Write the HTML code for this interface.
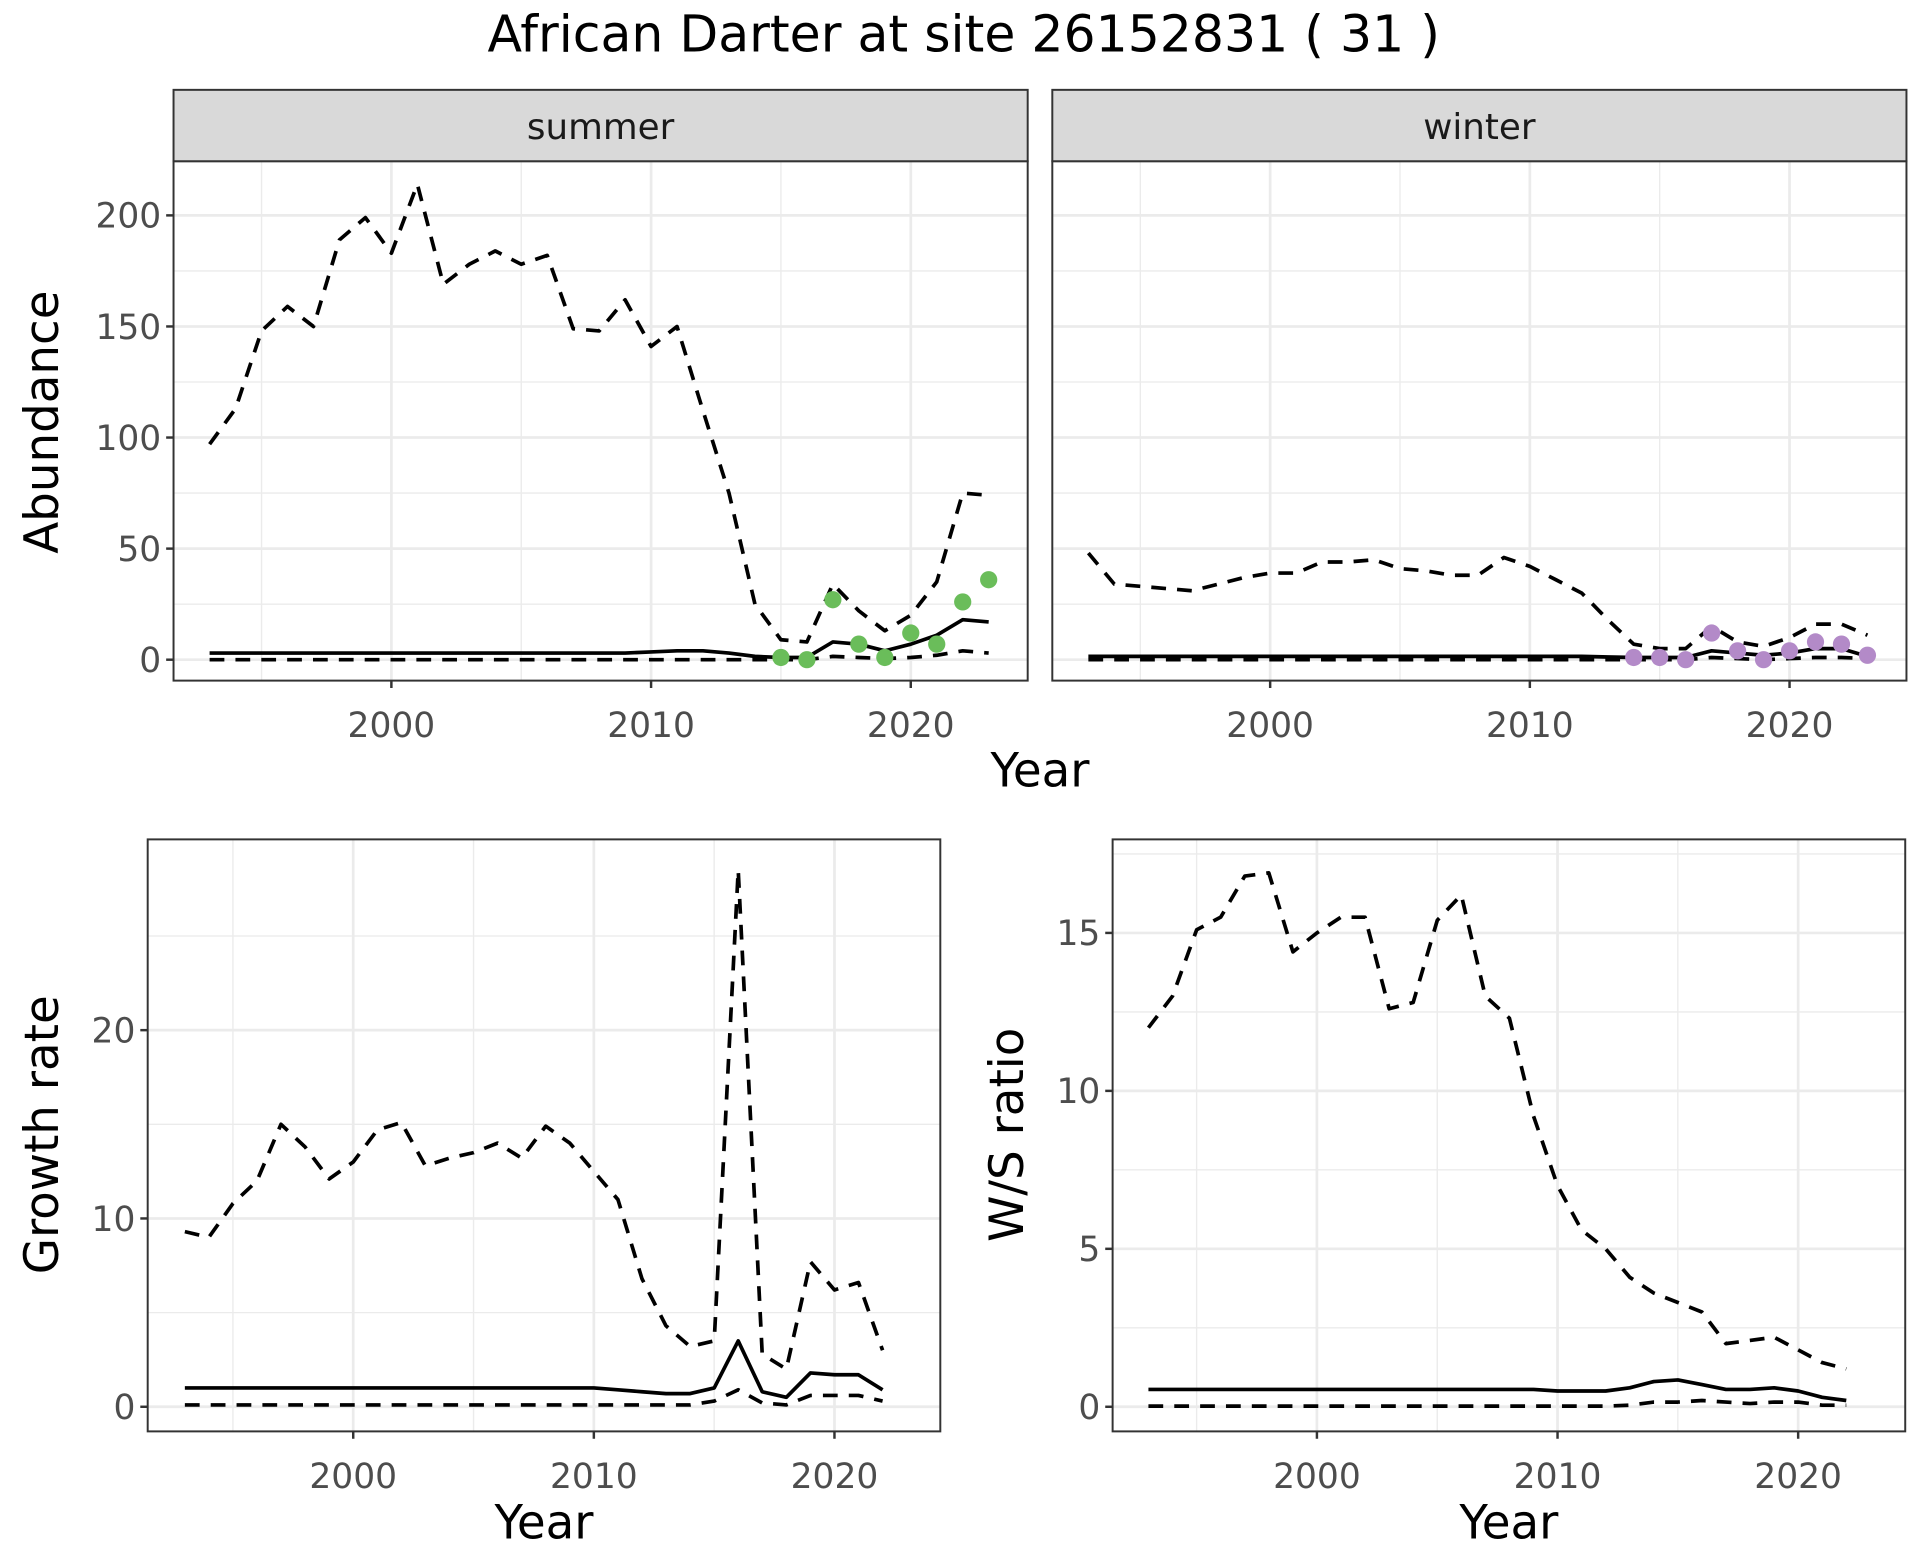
<!DOCTYPE html>
<html><head><meta charset="utf-8"><style>
html,body{margin:0;padding:0;background:#fff}
svg{display:block}
text{font-family:"DejaVu Sans","Liberation Sans",sans-serif}
</style></head><body>
<svg width="1920" height="1560" viewBox="0 0 1560 1267.5" xmlns="http://www.w3.org/2000/svg">
<rect width="1560" height="1267.5" fill="#fff"/>
<text x="783" y="42" font-size="41" text-anchor="middle" fill="#000">African Darter at site 26152831 ( 31 )</text>
<g id="root"></g>
</svg>
<script>
const yearsA = [1993,1994,1995,1996,1997,1998,1999,2000,2001,2002,2003,2004,2005,2006,2007,2008,2009,2010,2011,2012,2013,2014,2015,2016,2017,2018,2019,2020,2021,2022,2023];
const summerUpper = [97,113,148,159,150,189,199,183,214,169,178,184,178,182,149,148,162,141,150,112,75,25,9,8,34,22,13,20,35,75,74];
const summerMean = [3,3,3,3,3,3,3,3,3,3,3,3,3,3,3,3,3,3.5,4,4,3,1.5,1,1,8,7,4,7,11,18,17];
const summerLower = [0,0,0,0,0,0,0,0,0,0,0,0,0,0,0,0,0,0,0,0,0,0,0,0,1.5,1,0.5,1,2,4,3];
const summerPtYears = [2015,2016,2017,2018,2019,2020,2021,2022,2023];
const summerPts = [1,0,27,7,1,12,7,26,36];
const winterUpper = [48,34,33,32,31,34,37,39,39,44,44,45,41,40,38,38,46,42,36,30,18,7,5,5,15,8,6,10,16,16,11];
const winterMean = [1.5,1.5,1.5,1.5,1.5,1.5,1.5,1.5,1.5,1.5,1.5,1.5,1.5,1.5,1.5,1.5,1.5,1.5,1.5,1.5,1.2,1,1,1,4,3,2,3,5,5,1.5];
const winterLower = [0,0,0,0,0,0,0,0,0,0,0,0,0,0,0,0,0,0,0,0,0,0,0,0,1,0.5,0,0.5,1,1,0.5];
const winterPtYears = [2014,2015,2016,2017,2018,2019,2020,2021,2022,2023];
const winterPts = [1,1,0,12,4,0,4,8,7,2];
const yearsB = [1993,1994,1995,1996,1997,1998,1999,2000,2001,2002,2003,2004,2005,2006,2007,2008,2009,2010,2011,2012,2013,2014,2015,2016,2017,2018,2019,2020,2021,2022];
const growthUpper = [9.3,9.0,10.8,12,15,13.8,12.1,13,14.7,15.1,12.8,13.2,13.5,14,13.2,14.9,14,12.5,11,6.8,4.3,3.2,3.5,28.5,2.8,2,7.7,6.2,6.6,3];
const growthMean = [1,1,1,1,1,1,1,1,1,1,1,1,1,1,1,1,1,1,0.9,0.8,0.7,0.7,1.0,3.5,0.8,0.5,1.8,1.7,1.7,0.9];
const growthLower = [0.1,0.1,0.1,0.1,0.1,0.1,0.1,0.1,0.1,0.1,0.1,0.1,0.1,0.1,0.1,0.1,0.1,0.1,0.1,0.1,0.1,0.1,0.3,0.9,0.2,0.1,0.6,0.6,0.6,0.3];
const wsUpper = [12,13,15.1,15.5,16.8,16.9,14.4,15,15.5,15.5,12.6,12.8,15.4,16.2,13,12.3,9.2,7,5.6,5,4.1,3.6,3.3,3,2,2.1,2.2,1.8,1.4,1.2];
const wsMean = [0.55,0.55,0.55,0.55,0.55,0.55,0.55,0.55,0.55,0.55,0.55,0.55,0.55,0.55,0.55,0.55,0.55,0.5,0.5,0.5,0.6,0.8,0.85,0.7,0.55,0.55,0.6,0.5,0.3,0.2];
const wsLower = [0.02,0.02,0.02,0.02,0.02,0.02,0.02,0.02,0.02,0.02,0.02,0.02,0.02,0.02,0.02,0.02,0.02,0.02,0.02,0.02,0.05,0.15,0.15,0.2,0.15,0.1,0.15,0.15,0.05,0.05];
const abTicks = [0,50,100,150,200];
const growthTicks = [0,10,20];
const wsTicks = [0,5,10,15];
const yearTicks = [2000,2010,2020];

const NS="http://www.w3.org/2000/svg";
const root=document.getElementById('root');
function el(tag,attrs,parent){const e=document.createElementNS(NS,tag);for(const k in attrs)e.setAttribute(k,attrs[k]);(parent||root).appendChild(e);return e;}

function panel(o){
  const g=el('g',{});
  
  
  const sx=v=>o.xp[0]+(v-2000)/20*(o.xp[1]-o.xp[0]);
  const sy=v=>o.yp[0]+(v-o.ya)/(o.yb-o.ya)*(o.yp[1]-o.yp[0]);
  el('rect',{x:o.x0,y:o.y0,width:o.x1-o.x0,height:o.y1-o.y0,fill:'#fff'},g);
  for(let v=1985;v<=2035;v+=10){const x=sx(v); if(x>o.x0&&x<o.x1) el('line',{x1:x,x2:x,y1:o.y0,y2:o.y1,stroke:'#ebebeb','stroke-width':1.1},g);}
  const step=o.ticks[1]-o.ticks[0];
  for(let i=-1;i<=o.ticks.length;i++){const y=sy(o.ticks[0]+step*(i+0.5)); if(y>o.y0&&y<o.y1) el('line',{x1:o.x0,x2:o.x1,y1:y,y2:y,stroke:'#ebebeb','stroke-width':1.1},g);}
  yearTicks.forEach(v=>{const x=sx(v); el('line',{x1:x,x2:x,y1:o.y0,y2:o.y1,stroke:'#ebebeb','stroke-width':2.2},g);});
  o.ticks.forEach(v=>{const y=sy(v); el('line',{x1:o.x0,x2:o.x1,y1:y,y2:y,stroke:'#ebebeb','stroke-width':2.2},g);});
  const line=(xs,ys,dash,nm)=>{const p=el('polyline',{points:xs.map((x,i)=>sx(x).toFixed(1)+','+sy(ys[i]).toFixed(1)).join(' '),fill:'none',stroke:'#000','stroke-width':3,'stroke-linejoin':'round','stroke-dasharray':dash?'12 9':'none'},g);
    
    };
  line(o.xs,o.upper,true,o.name+'-upper-line');
  line(o.xs,o.mean,false,o.name+'-mean-line');
  line(o.xs,o.lower,true,o.name+'-lower-line');
  if(o.pts){o.ptYears.forEach((yr,i)=>{const c=el('circle',{cx:sx(yr),cy:sy(o.pts[i]),r:7,fill:o.ptColor},g);
    
    });}
  el('rect',{x:o.x0,y:o.y0,width:o.x1-o.x0,height:o.y1-o.y0,fill:'none',stroke:'#333','stroke-width':1.6},g);
  yearTicks.forEach(v=>{const x=sx(v); el('line',{x1:x,x2:x,y1:o.y1,y2:o.y1+6,stroke:'#333','stroke-width':2},g);
    const t=el('text',{x:x,y:o.y1+46,'font-size':28,'text-anchor':'middle',fill:'#4d4d4d'},g); t.textContent=v;
    
    });
  if(o.showY){o.ticks.forEach(v=>{const y=sy(v); el('line',{x1:o.x0-6,x2:o.x0,y1:y,y2:y,stroke:'#333','stroke-width':2},g);
    const t=el('text',{x:o.x0-10,y:y+10,'font-size':28,'text-anchor':'end',fill:'#4d4d4d'},g); t.textContent=v;
    
    });}
  if(o.strip){el('rect',{x:o.x0,y:o.y0-58,width:o.x1-o.x0,height:58,fill:'#d9d9d9',stroke:'#333','stroke-width':1.6},g);
    const t=el('text',{x:(o.x0+o.x1)/2,y:o.y0-18,'font-size':29,'text-anchor':'middle',fill:'#1a1a1a'},g); t.textContent=o.strip;
    
    }
}
function label(txt,x,y,rot,nm){const t=el('text',{x:x,y:y,'font-size':38,'text-anchor':'middle',fill:'#000'});
  if(rot) t.setAttribute('transform',`rotate(-90 ${x} ${y})`);
  t.textContent=txt;
  
  }

panel({name:'summer-panel',x0:141,x1:835,y0:131,y1:553,xp:[318,740],ya:0,yb:200,yp:[536,175],
  xs:yearsA,upper:summerUpper,mean:summerMean,lower:summerLower,pts:summerPts,ptYears:summerPtYears,ptColor:'#6abd5a',ticks:abTicks,showY:true,strip:'summer'});
panel({name:'winter-panel',x0:855,x1:1549,y0:131,y1:553,xp:[1032,1454],ya:0,yb:200,yp:[536,175],
  xs:yearsA,upper:winterUpper,mean:winterMean,lower:winterLower,pts:winterPts,ptYears:winterPtYears,ptColor:'#b38ac8',ticks:abTicks,showY:false,strip:'winter'});
panel({name:'growth-panel',x0:120,x1:764,y0:682,y1:1163,xp:[287,678],ya:0,yb:20,yp:[1143,837],
  xs:yearsB,upper:growthUpper,mean:growthMean,lower:growthLower,ticks:growthTicks,showY:true});
panel({name:'ws-ratio-panel',x0:904,x1:1548,y0:682,y1:1163,xp:[1070,1461],ya:0,yb:15,yp:[1143,758],
  xs:yearsB,upper:wsUpper,mean:wsMean,lower:wsLower,ticks:wsTicks,showY:true});

label('Abundance',47,343,true,'y-axis-title-abundance');
label('Year',845,639,false,'x-axis-title-top');
label('Growth rate',47,922,true,'y-axis-title-growth');
label('Year',442,1250,false,'x-axis-title-growth');
label('W/S ratio',831,922,true,'y-axis-title-ws');
label('Year',1226,1250,false,'x-axis-title-ws');
</script>
</body></html>
